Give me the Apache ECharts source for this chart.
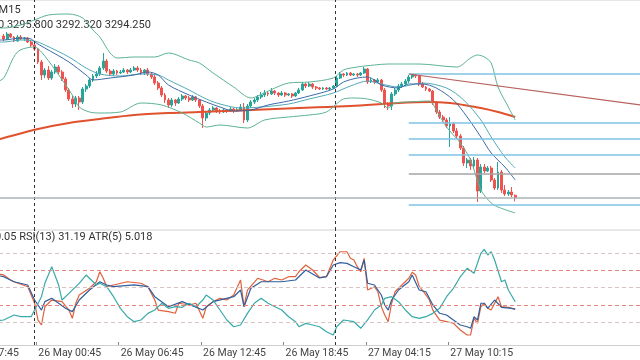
<!DOCTYPE html>
<html><head><meta charset="utf-8">
<script src="https://cdn.jsdelivr.net/npm/echarts@6/dist/echarts.min.js"></script>
<style>html,body{margin:0;padding:0;background:#fff}#c{width:640px;height:360px}</style>
</head><body><div id="c"></div>
<script>
// ---------- texts ----------
const symbolTitle = 'XAUUSD,M15';
const ohlcHeader = '3295.300 3295.800 3292.320 3294.250';
const indicatorHeader = 'RSI(9) 30.05 RSI(13) 31.19 ATR(5) 5.018';
const tickLabels = ['25 May 17:45','26 May 00:45','26 May 06:45','26 May 12:45','26 May 18:45','27 May 04:15','27 May 10:15'];
const tickBars = [-14.5, 9.5, 33.5, 57.5, 81.5, 105.5, 129.5];
const sessionBreaks = [8.9, 96.7];

// ---------- candles (bar index = position in arrays) ----------
const opens = [3375,3373.5,3376,3374.5,3372.5,3374.5,3373.5,3374,3372,3370.5,
3368.5,3362,3355.5,3358,3354,3357,3359.5,3357,3353.5,3348,
3343.5,3341,3344,3342,3348.5,3350,3353,3355,3356,3359,
3362.5,3357.5,3356,3357.5,3356.5,3357,3358,3357,3358,3359,
3358,3356.5,3358,3356,3354.5,3351.5,3349,3345.5,3343,3340.5,
3343,3341.5,3343.5,3345,3344,3343,3344.5,3343,3340,3334,
3336.5,3338,3339,3337.5,3337,3338,3337.5,3338.5,3337.5,3338,
3339.5,3333,3340,3342,3343,3344.5,3345.5,3346.5,3346,3347.5,
3346.5,3345.5,3346.5,3345.5,3346,3345,3346.5,3348,3351,3350,
3351,3349.5,3349,3348.5,3349,3348.5,3349,3350,3354,3356,
3355.5,3356.5,3355.5,3356,3355.5,3356.5,3358.5,3352,3353,3352,
3353,3348,3341,3340,3346,3348,3350,3351,3352.5,3354.5,
3355.5,3355,3351,3349.5,3348.5,3347.5,3341.5,3337,3334.5,3333,
3330,3331,3327.5,3325,3319,3311.5,3313,3310,3313,3297.5,
3309.5,3307.5,3309,3303,3299,3307,3298,3296,3297,3295.3];
const closes = [3373.5,3376,3374.5,3372.5,3374.5,3373.5,3374,3372,3370.5,3368.5,
3362,3355.5,3358,3354,3357,3359.5,3357,3353.5,3348,3343.5,
3341,3344,3342,3348.5,3350,3353,3355,3356,3359,3362.5,
3357.5,3356,3357.5,3356.5,3357,3358,3357,3358,3359,3358,
3356.5,3358,3356,3354.5,3351.5,3349,3345.5,3343,3340.5,3343,
3341.5,3343.5,3345,3344,3343,3344.5,3343,3340,3334,3336.5,
3338,3339,3337.5,3337,3338,3337.5,3338.5,3337.5,3338,3339.5,
3333,3340,3342,3343,3344.5,3345.5,3346.5,3346,3347.5,3346.5,
3345.5,3346.5,3345.5,3346,3345,3346.5,3348,3351,3350,3351,
3349.5,3349,3348.5,3349,3348.5,3349,3350,3354,3356,3355.5,
3356.5,3355.5,3356,3355.5,3356.5,3358.5,3352,3353,3352,3353,
3348,3341,3340,3346,3348,3350,3351,3352.5,3354.5,3355.5,
3355,3351,3349.5,3348.5,3347.5,3341.5,3337,3334.5,3333,3330,
3331,3327.5,3325,3319,3311.5,3313,3310,3313,3297.5,3309.5,
3307.5,3309,3303,3299,3307,3298,3296,3297,3295.5,3294.25];
const lows = [3372.5,3373,3374,3372,3372,3373,3372.5,3371.5,3369.5,3367.5,
3361,3353,3354,3353,3353,3356,3356,3352.5,3347,3342.5,
3339,3339.5,3338,3341,3347,3349,3352,3354,3355,3358,
3356.5,3355,3355,3355.5,3356,3356.5,3356,3356.5,3357.5,3357,
3355.5,3355.5,3355,3353.5,3350.5,3348,3344.5,3341.5,3339,3339.5,
3340,3341,3342.5,3343,3342,3342.5,3342,3339,3329,3332.5,
3335.5,3337,3336.5,3336,3336.5,3336.5,3337,3336.5,3337,3337.5,
3331.5,3332,3339,3341,3342,3343.5,3344.5,3345,3345.5,3345.5,
3344.5,3345,3344.5,3345,3344,3344.5,3346,3347.5,3349,3349.5,
3348.5,3348,3348,3348,3348,3348,3348.5,3349.5,3353.5,3354.5,
3355,3355,3355,3354.5,3355,3356,3351,3351.5,3351,3351.5,
3347,3339,3338,3338,3345,3347,3349,3350,3351.5,3353.5,
3354,3350,3349,3347.5,3347,3340.5,3336,3333.5,3332,3329,
3319.5,3326.5,3324,3318,3310,3309,3308,3308.5,3292,3296.5,
3306.5,3307,3302,3298,3298,3296.5,3295,3295,3294.5,3292.32];
const highs = [3376,3377,3376.5,3375,3375.5,3375.5,3374.5,3374.5,3373,3371.5,
3369,3363,3359,3360,3358,3361,3360.5,3358,3354.5,3349,
3345,3345,3345,3349.5,3351,3354,3356,3357.5,3360,3366.5,
3363.5,3358.5,3358.5,3358,3358,3359,3358.5,3359,3360,3360,
3359,3358.5,3359,3357,3355.5,3352.5,3350,3346.5,3344,3344,
3343.5,3344.5,3346,3345.5,3345,3345.5,3345,3343.5,3341,3337.5,
3339,3340,3339.5,3338.5,3339,3338.5,3339.5,3339,3339,3341,
3341.5,3341,3343,3344,3345.5,3347,3348,3347,3349,3348,
3347,3347.5,3347,3346.5,3346.5,3347,3349,3352,3351.5,3352,
3351.5,3350,3349.5,3349.5,3349.5,3349.5,3350.5,3355,3357,3356.5,
3357,3357,3356.5,3356.5,3357,3359.5,3359,3354,3353.5,3354,
3353.5,3349,3342,3347,3349,3351,3352,3353.5,3355.5,3356,
3356,3355.5,3352,3350,3349,3348,3342.5,3338,3335.5,3334,
3334.5,3332,3329,3326,3320,3314,3314,3314.5,3314,3311,
3311,3310,3310,3304,3312,3308,3300.5,3298,3299.5,3295.8];

// ---------- overlays on price: [bar, price] ----------
const bbUpper = [[-2,3379],[0,3379],[5,3380.5],[9,3383],[13,3385.5],[19,3386],[23,3384],[26,3378],[28,3374.5],[31,3366.5],[33,3364],[38,3364.5],[44,3364.5],[48,3366.5],[54,3363],[57,3361.5],[61,3356.5],[67,3349.5],[72,3344],[74,3345],[79,3349],[83,3351.5],[89,3352],[96,3354],[99,3358],[103,3359.5],[108,3360.5],[112,3361],[121,3361],[132,3359.5],[136,3364],[138,3365.5],[140,3364.5],[142,3361.5],[144,3349.5],[147,3339.5],[149,3333]];
const bbLower = [[-2,3352],[0,3354],[4,3367],[9,3369.5],[11,3367],[15,3358],[20,3345.5],[22,3339.5],[25,3337],[28,3336.5],[34,3337],[40,3341.5],[46,3340.5],[52,3336.5],[57,3331.5],[59,3329.5],[63,3330.5],[71,3329],[76,3333],[83,3334.5],[89,3335.5],[94,3337],[99,3343.5],[102,3344],[106,3343.5],[110,3341.5],[112,3339],[114,3341.5],[118,3342],[124,3342.5],[126,3338],[129,3329.5],[133,3321.5],[136,3313],[139,3298],[142,3291.5],[144,3289.5],[149,3286.5]];
const maFast = [[-2,3373],[0,3373],[5,3374],[8,3373.5],[9,3372],[12,3369],[19,3362],[24,3355.5],[26,3353],[31,3354],[38,3355.5],[42,3357],[45,3355.5],[48,3350.5],[54,3345.5],[59,3342],[63,3339.5],[67,3337.5],[72,3338],[77,3340.5],[83,3342.5],[89,3345],[96,3348.5],[99,3352],[103,3354],[106,3354.5],[108,3353],[110,3350.5],[115,3349],[118,3351],[122,3351],[126,3349],[131,3343],[135,3334.5],[139,3324.5],[142,3316.5],[146,3309.5],[149,3303]];
const maSlow = [[-2,3372],[0,3372],[5,3373],[9,3372.5],[12,3370.5],[19,3364.5],[24,3359],[28,3356],[34,3355],[40,3356],[45,3355.5],[48,3353],[54,3348],[59,3343.5],[63,3341],[69,3339],[75,3339.5],[83,3341],[89,3343.5],[96,3346.5],[101,3350],[106,3352.5],[110,3351],[115,3349.5],[122,3351.5],[129,3349],[134,3343],[139,3333],[142,3324.5],[146,3314.5],[149,3309]];
const maLong = [[-2,3323],[0,3324],[10,3328.5],[19,3331.5],[28,3333.5],[38,3335.5],[48,3336.5],[57,3337],[72,3338],[86,3339],[101,3340],[115,3341.5],[124,3342],[130,3341.5],[134,3340.5],[139,3339],[144,3337],[149,3334.5]];
const trendLine = [[118,3356],[185.6,3340.5]];
const fibStartBar = 118;
const fibLevels = [3356, 3331.5, 3323.5, 3315.5, 3306, 3290.5];
const fibIsGrey = [false, false, false, false, true, false];
const lastPrice = 3294.25;

// ---------- indicator window: [bar, value] ----------
const rsiFast = [[-2,62],[0,60.9],[2,56.5],[3,55.0],[7,50.7],[9,36.5],[10,21.7],[11,17.4],[12,33.3],[14,39.1],[17,37.7],[19,30.4],[20,23.2],[21,36.3],[22,43.5],[25,49.3],[27,55.0],[28,63.7],[29,58.0],[30,50.7],[32,52.2],[36,55.0],[40,53.7],[42,50.7],[44,39.1],[45,30.4],[48,29.0],[50,27.6],[51,36.3],[54,34.8],[56,36.3],[58,23.2],[59,33.3],[61,37.7],[63,40.6],[65,39.1],[67,43.5],[69,56.5],[70,33.3],[71,47.8],[74,58.0],[77,55.0],[79,58.0],[81,56.5],[83,59.4],[85,59.4],[86,63.7],[88,69.6],[90,65.2],[92,58.7],[94,59.4],[96,73.9],[98,81.1],[100,81.1],[101,75.4],[102,73.9],[103,68.1],[104,63.7],[105,75.4],[106,47.8],[108,50.7],[109,46.3],[110,33.3],[111,26.1],[112,20.3],[113,36.3],[114,46.3],[116,52.2],[118,58.0],[119,63.2],[120,60.9],[121,51.3],[123,43.5],[124,39.1],[125,30.4],[127,21.7],[129,20.3],[131,18.9],[133,13.0],[135,8.7],[136,8.7],[137,23.2],[138,18.9],[139,33.3],[140,36.3],[141,31.9],[142,30.4],[144,42.0],[145,33.3],[147,32.8],[149,31.0]];
const rsiSlow = [[-2,60.5],[0,59.4],[3,55.0],[7,52.2],[9,39.1],[11,30.4],[12,37.7],[14,40.6],[18,31.9],[20,29.0],[22,39.1],[25,47.8],[28,55.0],[30,52.2],[32,50.7],[38,52.2],[42,50.7],[44,42.0],[48,33.3],[52,37.7],[58,30.4],[61,37.7],[67,42.0],[69,47.8],[70,33.3],[72,49.3],[75,55.0],[81,55.0],[85,56.5],[88,65.2],[92,58.3],[94,59.4],[96,69.6],[98,71.6],[100,71.0],[102,68.1],[104,65.2],[105,73.9],[106,53.7],[108,52.2],[110,43.5],[111,34.8],[112,30.4],[113,39.1],[115,47.8],[118,55.0],[119,60.9],[121,47.8],[123,46.3],[125,34.8],[127,27.6],[129,26.1],[131,21.7],[133,17.4],[135,15.9],[136,14.5],[137,24.6],[138,21.7],[139,36.3],[140,36.3],[141,31.9],[143,39.1],[145,32.8],[148,31.9],[149,31.19]];
const atrValues = [[-2,2.8],[0,2.90],[3,3.48],[5,3.28],[8,3.28],[9,4.06],[11,5.60],[12,7.15],[14,9.07],[16,6.95],[17,5.21],[19,5.99],[22,7.15],[24,8.11],[27,6.95],[28,7.15],[30,6.76],[32,5.60],[34,4.25],[36,3.28],[38,2.70],[40,2.90],[42,3.67],[44,4.06],[46,4.83],[48,4.25],[50,4.44],[52,4.37],[54,4.83],[56,4.44],[58,5.21],[59,5.79],[61,5.21],[63,4.06],[65,2.90],[67,2.12],[69,2.32],[71,3.67],[73,4.83],[75,5.41],[77,4.83],[79,4.44],[81,4.06],[83,3.28],[85,2.70],[86,2.12],[88,2.51],[90,2.32],[92,2.12],[94,1.54],[96,1.16],[97,2.12],[99,2.90],[102,2.70],[104,1.94],[106,2.90],[108,4.06],[110,4.63],[111,5.41],[113,5.60],[115,5.02],[117,4.06],[119,3.28],[121,3.09],[123,3.28],[125,3.67],[127,4.25],[129,5.60],[131,6.57],[133,7.91],[135,8.89],[137,8.31],[139,10.63],[140,11.09],[141,10.43],[142,10.81],[143,9.85],[145,7.33],[146,7.53],[147,6.37],[149,5.018]];
const rsiLevels = [80, 65, 50, 35, 20];
const rsiLevelIsRed = [false, true, false, true, false];

// ---------- chart ----------
const X_MIN = -15.64, X_MAX = 185.64;
const BULL = '#26a69a', BEAR = '#ef5350';
const FONT = 'Roboto, "Noto Sans", sans-serif';
const chart = echarts.init(document.getElementById('c'), null, {renderer: 'canvas'});

const candleData = opens.map((o, i) => [i, o, closes[i], lows[i], highs[i]]);
const hidden = {show: false};
function vLines(){ return sessionBreaks.map(b => ({xAxis: b})); }

const fibMarks = fibLevels.map((p, i) => [
  {coord: [fibStartBar, p], lineStyle: {color: fibIsGrey[i] ? '#a4a4a4' : '#7cc3e3', width: 1.5, type: 'solid'}},
  {coord: [X_MAX, p]}
]);

const option = {
  animation: false,
  backgroundColor: '#ffffff',
  grid: [
    {left: -50, right: -1, top: 0, height: 230, show: true, borderColor: '#d0d0d0', borderWidth: 1, outerBoundsMode: 'none', containLabel: false},
    {left: -50, right: -1, top: 230, height: 115, outerBoundsMode: 'none', containLabel: false}
  ],
  xAxis: [
    {type: 'value', gridIndex: 0, min: X_MIN, max: X_MAX, axisLine: {show: false}, axisTick: hidden, axisLabel: hidden, splitLine: hidden},
    {type: 'value', gridIndex: 1, min: X_MIN, max: X_MAX,
      axisLine: {show: true, onZero: false, lineStyle: {color: '#cfcfcf', width: 1}},
      axisTick: {show: true, inside: true, length: 3, customValues: tickBars, lineStyle: {color: '#888'}},
      axisLabel: {show: true, customValues: tickBars, align: 'left', margin: 3, padding: [0,0,0,2],
        color: '#444', fontSize: 10.5, fontFamily: FONT,
        formatter: v => { const k = tickBars.indexOf(v); return k >= 0 ? tickLabels[k] : ''; }},
      splitLine: hidden}
  ],
  yAxis: [
    {type: 'value', gridIndex: 0, min: 3278, max: 3393, axisLine: hidden, axisTick: hidden, axisLabel: hidden, splitLine: hidden},
    {type: 'value', gridIndex: 1, min: 0, max: 100, axisLine: hidden, axisTick: hidden, axisLabel: hidden, splitLine: hidden},
    {type: 'value', gridIndex: 1, min: 0, max: 13.33, axisLine: hidden, axisTick: hidden, axisLabel: hidden, splitLine: hidden}
  ],
  series: [
    {name: 'MA200', type: 'line', xAxisIndex: 0, yAxisIndex: 0, data: maLong, showSymbol: false, smooth: 0.3,
      lineStyle: {color: '#e0522e', width: 2}, silent: true},
    {name: 'BB up', type: 'line', xAxisIndex: 0, yAxisIndex: 0, data: bbUpper, showSymbol: false, smooth: 0.3,
      lineStyle: {color: '#5cb393', width: 1}, silent: true},
    {name: 'BB low', type: 'line', xAxisIndex: 0, yAxisIndex: 0, data: bbLower, showSymbol: false, smooth: 0.3,
      lineStyle: {color: '#5cb393', width: 1}, silent: true},
    {name: 'MA slow', type: 'line', xAxisIndex: 0, yAxisIndex: 0, data: maSlow, showSymbol: false, smooth: 0.3,
      lineStyle: {color: '#52a9b5', width: 1}, silent: true},
    {name: 'MA fast', type: 'line', xAxisIndex: 0, yAxisIndex: 0, data: maFast, showSymbol: false, smooth: 0.3,
      lineStyle: {color: '#3d6aa8', width: 1}, silent: true},
    {name: 'Price', type: 'candlestick', xAxisIndex: 0, yAxisIndex: 0, data: candleData,
      encode: {x: 0, y: [1, 2, 3, 4]}, barWidth: 2.4,
      itemStyle: {color: BULL, color0: BEAR, borderColor: BULL, borderColor0: BEAR, borderWidth: 1},
      markLine: {silent: true, symbol: ['none', 'none'], label: {show: false}, animation: false,
        data: [
          ...vLines().map(d => Object.assign(d, {lineStyle: {color: '#333', type: [3, 3], width: 1}})),
          {yAxis: lastPrice, lineStyle: {color: '#a9b3b8', type: 'solid', width: 1.5}},
          ...fibMarks,
          [{coord: trendLine[0], lineStyle: {color: '#b8605c', width: 1.2, type: 'solid'}}, {coord: trendLine[1]}]
        ]}},
    {name: 'RSI fast', type: 'line', xAxisIndex: 1, yAxisIndex: 1, data: rsiFast, showSymbol: false,
      lineStyle: {color: '#e0613c', width: 1.2}, silent: true,
      markLine: {silent: true, symbol: ['none', 'none'], label: {show: false}, animation: false,
        data: [
          ...rsiLevels.map((l, i) => ({yAxis: l, lineStyle: {color: rsiLevelIsRed[i] ? '#e8867e' : '#d9c4c4', type: [4, 3], width: 1}})),
          ...vLines().map(d => Object.assign(d, {lineStyle: {color: '#333', type: [3, 3], width: 1}}))
        ]}},
    {name: 'RSI slow', type: 'line', xAxisIndex: 1, yAxisIndex: 1, data: rsiSlow, showSymbol: false,
      lineStyle: {color: '#2f5f9e', width: 1.2}, silent: true},
    {name: 'ATR', type: 'line', xAxisIndex: 1, yAxisIndex: 2, data: atrValues, showSymbol: false,
      lineStyle: {color: '#3aa9a9', width: 1.2}, silent: true}
  ],
  graphic: [
    {type: 'text', x: -45, y: 5, silent: true, style: {text: symbolTitle, font: '11px ' + FONT, fill: '#333'}},
    {type: 'text', x: -42, y: 20, silent: true, style: {text: ohlcHeader, font: '11px ' + FONT, fill: '#333'}},
    {type: 'text', x: -44, y: 232, silent: true, style: {text: indicatorHeader, font: '11px ' + FONT, fill: '#333'}}
  ]
};
chart.setOption(option);
</script>
</body></html>
